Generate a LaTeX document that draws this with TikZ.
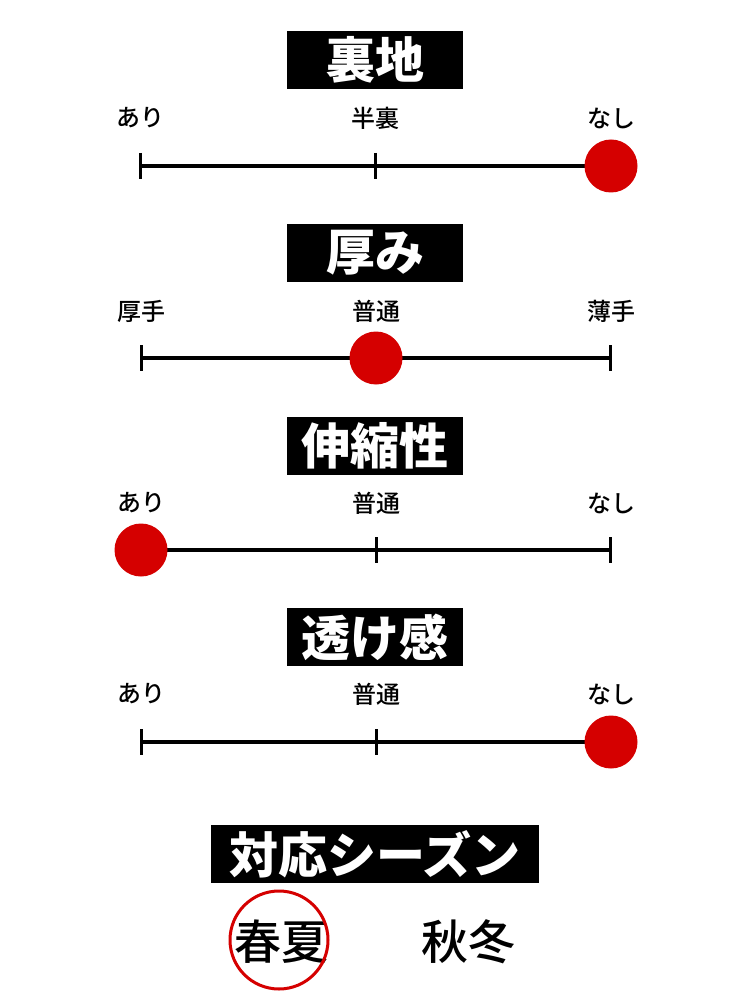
\documentclass[tikz,border=0pt]{standalone}
\usepackage{fontspec}
\newfontfamily\jp{Noto Sans CJK JP}
\newfontfamily\jpmed{Noto Sans CJK JP Medium}
\definecolor{dotred}{HTML}{D50000}
\tikzset{
  titlebox/.style={fill=black,text=white,inner sep=0pt,minimum height=58pt,font=\jp\bfseries\fontsize{49}{49}\selectfont},
  scalelabel/.style={font=\jpmed\fontsize{24}{24}\selectfont},
  season/.style={font=\jpmed\fontsize{47}{47}\selectfont},
  bar/.style={line width=3.5pt},
  tickmark/.style={line width=3pt},
  dot/.style={circle,fill=dotred,minimum size=53pt,inner sep=0pt}
}
\begin{document}
\begin{tikzpicture}[x=1pt,y=-1pt]
\useasboundingbox[fill=white] (0,0) rectangle (750,1000);
% lining
\node[titlebox,minimum width=176pt] (t1) at (375,60) {裏地};
\node[scalelabel] (a1) at (140,118) {あり};
\node[scalelabel] (b1) at (375,118) {半裏};
\node[scalelabel] (c1) at (611,118) {なし};
\coordinate (l1) at (140,166); \coordinate (m1) at (375,166); \coordinate (r1) at (611,166);
\draw[bar] (l1) -- (r1);
\draw[tickmark] ([yshift=13pt]l1) -- ([yshift=-13pt]l1);
\draw[tickmark] ([yshift=13pt]m1) -- ([yshift=-13pt]m1);
\node[dot] (d1) at (r1) {};
% thickness
\node[titlebox,minimum width=176pt] (t2) at (375,253) {厚み};
\node[scalelabel] (a2) at (141,311) {厚手};
\node[scalelabel] (b2) at (376,311) {普通};
\node[scalelabel] (c2) at (611,311) {薄手};
\coordinate (l2) at (141,358); \coordinate (m2) at (376,358); \coordinate (r2) at (610,358);
\draw[bar] (l2) -- (r2);
\draw[tickmark] ([yshift=13pt]l2) -- ([yshift=-13pt]l2);
\draw[tickmark] ([yshift=13pt]r2) -- ([yshift=-13pt]r2);
\node[dot] (d2) at (m2) {};
% stretch
\node[titlebox,minimum width=176pt] (t3) at (375,446) {伸縮性};
\node[scalelabel] (a3) at (141,503) {あり};
\node[scalelabel] (b3) at (376,503) {普通};
\node[scalelabel] (c3) at (611,503) {なし};
\coordinate (l3) at (141,550); \coordinate (m3) at (376,550); \coordinate (r3) at (610,550);
\draw[bar] (l3) -- (r3);
\draw[tickmark] ([yshift=13pt]m3) -- ([yshift=-13pt]m3);
\draw[tickmark] ([yshift=13pt]r3) -- ([yshift=-13pt]r3);
\node[dot] (d3) at (l3) {};
% sheerness
\node[titlebox,minimum width=176pt] (t4) at (375,637) {透け感};
\node[scalelabel] (a4) at (141,694) {あり};
\node[scalelabel] (b4) at (376,694) {普通};
\node[scalelabel] (c4) at (611,694) {なし};
\coordinate (l4) at (141,742); \coordinate (m4) at (376,742); \coordinate (r4) at (611,742);
\draw[bar] (l4) -- (r4);
\draw[tickmark] ([yshift=13pt]l4) -- ([yshift=-13pt]l4);
\draw[tickmark] ([yshift=13pt]m4) -- ([yshift=-13pt]m4);
\node[dot] (d4) at (r4) {};
% season
\node[titlebox,minimum width=328pt] (t5) at (375,854) {対応シーズン};
\node[season] (s1) at (281,942) {春夏};
\node[season] (s2) at (468,942) {秋冬};
\draw[dotred,line width=3pt] (279,940) circle (49pt);
\end{tikzpicture}
\end{document}
